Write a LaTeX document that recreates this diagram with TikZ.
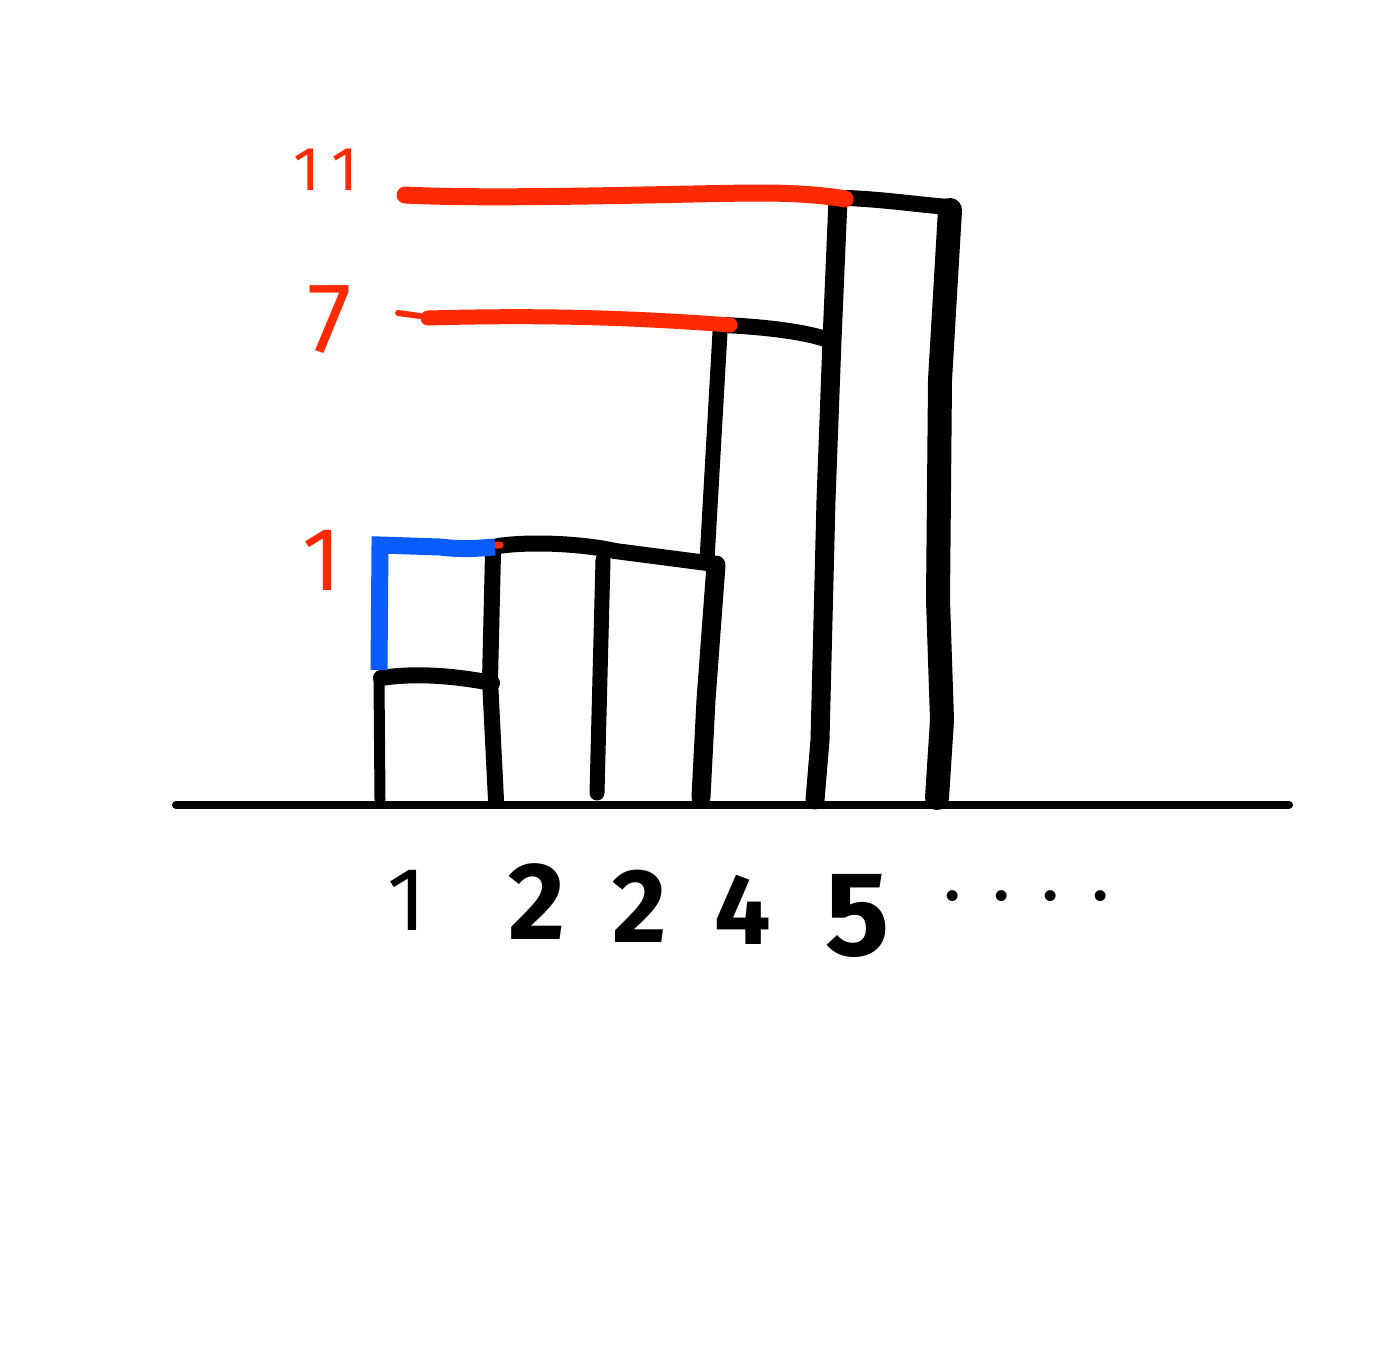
\documentclass[tikz,border=0pt]{standalone}
\usepackage{fontspec}
\setsansfont{Fira Sans}
\definecolor{penred}{HTML}{FF2A00}
\definecolor{penblue}{HTML}{0A5CFF}
\begin{document}
\begin{tikzpicture}[x=1pt,y=-1pt,
  stroke/.style={line width=#1, line cap=round, line join=round},
  blk/.style={stroke=#1, black},
  rd/.style={stroke=#1, penred},
  bl/.style={stroke=#1, penblue},
  redlabel/.style={text=penred, font=\sffamily\fontsize{#1}{#1}\selectfont, inner sep=0pt},
  blklabel/.style={text=black, font=\sffamily\bfseries\fontsize{#1}{#1}\selectfont, inner sep=0pt}]
\useasboundingbox (0,0) rectangle (1389,1365);
% axis
\draw[blk=8] (176,805) -- (1289,805);
% bar 1
\draw[blk=11] (380,800) -- (379,680);
\draw[blk=16] (381,678) .. controls (420,672) and (460,677) .. (492,683);
\draw[blk=16] (493,553) -- (490,680) -- (496,800);
% bar 2/3
\draw[blk=16] (498,546) .. controls (540,540) and (595,546) .. (615,551) -- (715,564);
\draw[blk=15] (603,560) -- (597,793);
\draw[blk=19] (716,565) -- (706,700) -- (701,797);
% bar 4
\draw[blk=15] (720,332) -- (707,560);
\draw[blk=16] (723,325) .. controls (770,327) and (810,333) .. (828,340);
\draw[blk=19] (838,200) -- (832,340) -- (826,500) -- (820,740) -- (815,800);
% bar 5
\draw[blk=16] (848,198) .. controls (890,200) and (920,205) .. (950,207);
\draw[blk=24] (950,210) -- (940,380) -- (938,600) -- (942,720) -- (937,798);
% red guide lines
\draw[rd=17] (405,195) .. controls (500,200) and (700,193) .. (760,193) .. controls (800,193) and (830,196) .. (845,199);
\draw[rd=6] (398,313) -- (420,316);
\draw[rd=15] (428,318) .. controls (500,316) and (600,315) .. (730,325);
\draw[rd=7] (392,546) -- (500,545);
% blue
\draw[bl=17, line join=miter, line cap=butt] (379,670) -- (380,545) -- (440,547) .. controls (465,550) and (480,548) .. (495,547);
% red labels
\node[redlabel=62] (l11) at (326,170) {1\hspace{12pt}1};
\node[redlabel=100] (l7) at (330,320) {7};
\node[redlabel=90] (l1) at (322,560) {1};
% bottom labels
\node[blklabel=90, font=\sffamily\fontsize{90}{90}\selectfont] (n1) at (407,900) {1};
\node[blklabel=110] (n2a) at (537,902) {2};
\node[blklabel=105] (n2b) at (640,906) {2};
\node[blklabel=100] (n4) at (743,910) {4};
\node[blklabel=120] (n5) at (858,916) {5};
\node[blklabel=60, anchor=base west] (dots) at (945,900) {.\hspace{35pt}.\hspace{35pt}.\hspace{35pt}.};
\end{tikzpicture}
\end{document}
